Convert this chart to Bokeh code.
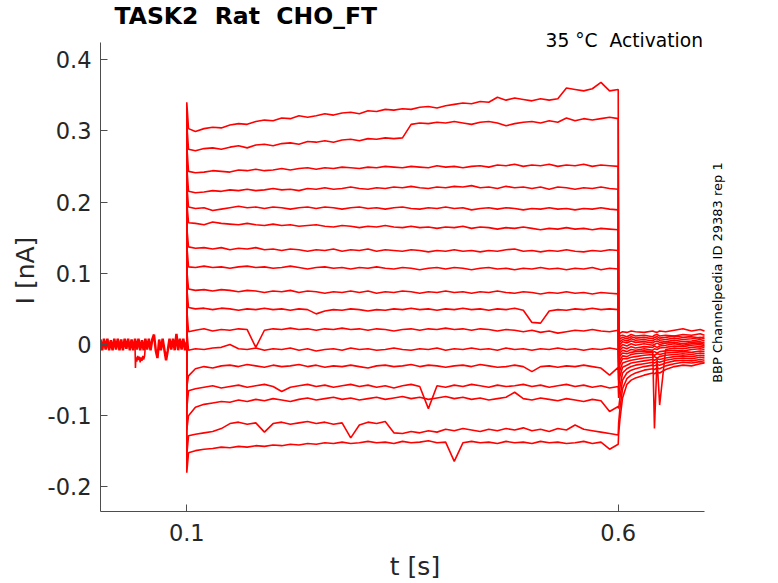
from math import pi

from bokeh.plotting import figure
from bokeh.models import Range1d, FixedTicker, Label
from bokeh.embed import file_html
from bokeh.resources import INLINE

# ---------------- texts ----------------
TITLE = "TASK2\u00a0 Rat\u00a0 CHO_FT"
CONDITION = "35 °C\u00a0 Activation"
SOURCE_NOTE = "BBP Channelpedia ID 29383 rep 1"
X_LABEL = "t [s]"
Y_LABEL = "I [nA]"
X_TICKS = [0.1, 0.6]
X_TICK_LABELS = ["0.1", "0.6"]
Y_TICKS = [-0.2, -0.1, 0, 0.1, 0.2, 0.3, 0.4]
Y_TICK_LABELS = ["-0.2", "-0.1", "0", "0.1", "0.2", "0.3", "0.4"]

# axis extents (data units)
X_MIN, X_MAX = 0.0, 0.7
Y_MIN, Y_MAX = -0.2344, 0.4239

# ---------------- protocol ----------------
PULSE_START = 0.1      # s
HOLD_LEVEL = 0.0       # nA

# sample times during the step (s)
ON_T = [0.102] + [round(0.11 + 0.01 * i, 2) for i in range(50)]
# sample times after the step (s)
TAIL_T = [0.6005, 0.602, 0.605, 0.61, 0.615, 0.62, 0.63, 0.64, 0.642, 0.645,
          0.648, 0.655, 0.665, 0.675, 0.685, 0.695, 0.70]

# holding current before the step (overlaid recordings)
BASE_A_T = [round(0.002 * i, 3) for i in range(51)]
BASE_A = [0.007, -0.008, 0.008, -0.007, 0.008, -0.008, 0.006, -0.008, 0.008, -0.007,
          0.008, -0.008, 0.007, -0.008, 0.008, -0.006, 0.008, -0.008, 0.007, -0.008,
          0.008, -0.007, 0.008, -0.008, 0.006, -0.008, 0.008, -0.007, 0.008, -0.008,
          0.007, 0.014, -0.008, -0.019, 0.007, -0.008, 0.008, -0.007, -0.022, -0.008,
          0.008, -0.007, 0.008, -0.008, 0.015, -0.008, 0.008, -0.007, 0.008, -0.008,
          0.004]
BASE_B_T = [0.040, 0.0405, 0.041, 0.042, 0.043, 0.044, 0.045, 0.046, 0.047, 0.048,
            0.049, 0.050, 0.051, 0.0515, 0.052]
BASE_B = [0.0, -0.033, -0.018, -0.024, -0.016, -0.022, -0.017, -0.025, -0.018, -0.023,
          -0.016, -0.021, -0.017, -0.010, 0.0]

# capacitive peak at step onset (nA), one per sweep
PEAKS = [0.340, 0.310, 0.280, 0.250, 0.225, 0.200, 0.165, 0.140, 0.105, 0.080,
         0.050, 0.020, -0.060, -0.090, -0.120, -0.155, -0.180]

# current during the step (nA), one list per sweep
STEP_01 = [0.303,
           0.299, 0.303, 0.305, 0.304, 0.308, 0.310, 0.309, 0.313, 0.315, 0.314,
           0.318, 0.317, 0.321, 0.319, 0.321, 0.324, 0.322, 0.325, 0.326, 0.324,
           0.328, 0.327, 0.330, 0.329, 0.331, 0.330, 0.333, 0.334, 0.332, 0.335,
           0.337, 0.339, 0.338, 0.341, 0.340, 0.347, 0.343, 0.346, 0.344, 0.342,
           0.345, 0.343, 0.345, 0.360, 0.358, 0.356, 0.359, 0.368, 0.356, 0.358]
STEP_02 = [0.274,
           0.272, 0.275, 0.276, 0.274, 0.277, 0.279, 0.276, 0.280, 0.281, 0.279,
           0.282, 0.283, 0.281, 0.285, 0.284, 0.286, 0.284, 0.287, 0.288, 0.286,
           0.289, 0.288, 0.290, 0.289, 0.290, 0.309, 0.311, 0.310, 0.312, 0.311,
           0.313, 0.311, 0.309, 0.312, 0.313, 0.311, 0.307, 0.310, 0.312, 0.313,
           0.311, 0.314, 0.312, 0.318, 0.314, 0.317, 0.315, 0.317, 0.319, 0.317]
STEP_03 = [0.243,
           0.241, 0.242, 0.244, 0.243, 0.242, 0.245, 0.244, 0.246, 0.244, 0.245,
           0.247, 0.245, 0.247, 0.248, 0.246, 0.248, 0.247, 0.249, 0.248, 0.247,
           0.249, 0.248, 0.250, 0.249, 0.248, 0.250, 0.249, 0.248, 0.251, 0.249,
           0.250, 0.248, 0.250, 0.251, 0.249, 0.252, 0.251, 0.253, 0.250, 0.252,
           0.251, 0.253, 0.250, 0.252, 0.251, 0.253, 0.250, 0.252, 0.251, 0.250]
STEP_04 = [0.215,
           0.213, 0.214, 0.216, 0.215, 0.217, 0.216, 0.218, 0.216, 0.217, 0.219,
           0.217, 0.218, 0.216, 0.219, 0.218, 0.220, 0.218, 0.219, 0.221, 0.219,
           0.218, 0.220, 0.219, 0.221, 0.220, 0.222, 0.220, 0.219, 0.221, 0.220,
           0.222, 0.221, 0.223, 0.220, 0.221, 0.219, 0.222, 0.220, 0.221, 0.219,
           0.221, 0.218, 0.221, 0.220, 0.218, 0.220, 0.219, 0.221, 0.219, 0.218]
STEP_05 = [0.193,
           0.191, 0.192, 0.188, 0.190, 0.192, 0.194, 0.192, 0.193, 0.191, 0.193,
           0.192, 0.190, 0.192, 0.193, 0.191, 0.193, 0.192, 0.190, 0.192, 0.193,
           0.191, 0.192, 0.190, 0.192, 0.193, 0.191, 0.190, 0.192, 0.191, 0.193,
           0.191, 0.192, 0.189, 0.191, 0.192, 0.190, 0.192, 0.191, 0.189, 0.191,
           0.190, 0.192, 0.190, 0.191, 0.189, 0.191, 0.190, 0.192, 0.190, 0.189]
STEP_06 = [0.171,
           0.170, 0.168, 0.172, 0.170, 0.169, 0.168, 0.170, 0.168, 0.167, 0.169,
           0.167, 0.168, 0.166, 0.167, 0.168, 0.166, 0.165, 0.167, 0.166, 0.164,
           0.166, 0.165, 0.167, 0.165, 0.164, 0.166, 0.164, 0.165, 0.163, 0.165,
           0.164, 0.166, 0.163, 0.165, 0.164, 0.162, 0.164, 0.163, 0.165, 0.163,
           0.161, 0.163, 0.162, 0.164, 0.162, 0.163, 0.161, 0.163, 0.162, 0.161]
STEP_07 = [0.137,
           0.135, 0.136, 0.134, 0.136, 0.133, 0.135, 0.134, 0.136, 0.133, 0.134,
           0.132, 0.134, 0.133, 0.131, 0.133, 0.132, 0.134, 0.131, 0.133, 0.132,
           0.134, 0.131, 0.133, 0.132, 0.131, 0.133, 0.132, 0.130, 0.132, 0.131,
           0.133, 0.131, 0.132, 0.130, 0.132, 0.131, 0.133, 0.134, 0.131, 0.132,
           0.130, 0.132, 0.131, 0.133, 0.131, 0.130, 0.132, 0.131, 0.133, 0.132]
STEP_08 = [0.109,
           0.108, 0.110, 0.108, 0.109, 0.107, 0.109, 0.110, 0.108, 0.109, 0.107,
           0.108, 0.110, 0.108, 0.106, 0.108, 0.109, 0.107, 0.108, 0.106, 0.108,
           0.107, 0.109, 0.107, 0.106, 0.108, 0.107, 0.105, 0.107, 0.108, 0.106,
           0.108, 0.107, 0.105, 0.107, 0.108, 0.106, 0.107, 0.105, 0.107, 0.106,
           0.108, 0.106, 0.107, 0.105, 0.107, 0.106, 0.108, 0.105, 0.107, 0.106]
STEP_09 = [0.078,
           0.076, 0.077, 0.075, 0.077, 0.076, 0.074, 0.076, 0.075, 0.073, 0.075,
           0.074, 0.076, 0.073, 0.075, 0.074, 0.072, 0.074, 0.073, 0.075, 0.073,
           0.075, 0.072, 0.074, 0.073, 0.075, 0.074, 0.072, 0.074, 0.073, 0.075,
           0.073, 0.074, 0.072, 0.074, 0.073, 0.075, 0.073, 0.072, 0.074, 0.073,
           0.071, 0.073, 0.072, 0.074, 0.072, 0.073, 0.071, 0.073, 0.072, 0.071]
STEP_10 = [0.052,
           0.050, 0.051, 0.049, 0.051, 0.050, 0.048, 0.050, 0.049, 0.051, 0.049,
           0.050, 0.048, 0.050, 0.049, 0.043, 0.047, 0.049, 0.048, 0.050, 0.049,
           0.047, 0.049, 0.048, 0.050, 0.049, 0.051, 0.049, 0.050, 0.048, 0.050,
           0.049, 0.051, 0.049, 0.050, 0.048, 0.050, 0.049, 0.051, 0.048, 0.031,
           0.030, 0.047, 0.049, 0.048, 0.050, 0.049, 0.051, 0.049, 0.050, 0.049]
STEP_11 = [0.018,
           0.020, 0.022, 0.019, 0.021, 0.020, 0.022, 0.021, -0.004, 0.020, 0.022,
           0.021, 0.023, 0.021, 0.022, 0.020, 0.022, 0.021, 0.023, 0.021, 0.022,
           0.020, 0.022, 0.021, 0.019, 0.021, 0.022, 0.020, 0.022, 0.021, 0.023,
           0.021, 0.022, 0.020, 0.022, 0.021, 0.019, 0.021, 0.020, 0.018, 0.020,
           0.017, 0.019, 0.016, 0.018, 0.020, 0.019, 0.021, 0.019, 0.018, 0.020]
STEP_12 = [-0.008,
           -0.006, -0.007, -0.005, -0.004, 0.000, -0.006, -0.007, -0.005, -0.008, -0.006,
           -0.007, -0.005, -0.008, -0.006, -0.009, -0.007, -0.006, -0.008, -0.005, -0.007,
           -0.006, -0.008, -0.007, -0.005, -0.007, -0.008, -0.006, -0.007, -0.005, -0.008,
           -0.006, -0.007, -0.005, -0.007, -0.006, -0.008, -0.005, -0.007, -0.006, -0.008,
           -0.006, -0.007, -0.005, -0.007, -0.006, -0.008, -0.006, -0.007, -0.005, -0.007]
STEP_13 = [-0.044,
           -0.034, -0.031, -0.033, -0.030, -0.029, -0.031, -0.028, -0.030, -0.032, -0.029,
           -0.031, -0.030, -0.028, -0.031, -0.029, -0.032, -0.030, -0.031, -0.029, -0.031,
           -0.033, -0.030, -0.029, -0.031, -0.030, -0.028, -0.031, -0.029, -0.030, -0.032,
           -0.030, -0.029, -0.031, -0.028, -0.030, -0.032, -0.031, -0.029, -0.031, -0.038,
           -0.031, -0.030, -0.032, -0.030, -0.031, -0.029, -0.031, -0.033, -0.043, -0.032]
STEP_14 = [-0.065,
           -0.062, -0.060, -0.058, -0.061, -0.059, -0.057, -0.060, -0.058, -0.056, -0.059,
           -0.066, -0.060, -0.058, -0.056, -0.059, -0.057, -0.060, -0.058, -0.056, -0.059,
           -0.057, -0.060, -0.058, -0.061, -0.058, -0.056, -0.059, -0.090, -0.058, -0.060,
           -0.057, -0.059, -0.056, -0.058, -0.060, -0.057, -0.059, -0.058, -0.056, -0.059,
           -0.057, -0.060, -0.058, -0.056, -0.059, -0.057, -0.060, -0.058, -0.061, -0.059]
STEP_15 = [-0.100,
           -0.088, -0.084, -0.082, -0.080, -0.081, -0.078, -0.080, -0.077, -0.079, -0.076,
           -0.078, -0.080, -0.077, -0.075, -0.078, -0.076, -0.074, -0.077, -0.075, -0.078,
           -0.076, -0.074, -0.077, -0.075, -0.073, -0.076, -0.074, -0.077, -0.075, -0.073,
           -0.076, -0.074, -0.077, -0.075, -0.078, -0.076, -0.074, -0.067, -0.076, -0.078,
           -0.075, -0.077, -0.079, -0.076, -0.078, -0.080, -0.077, -0.079, -0.094, -0.087]
STEP_16 = [-0.128,
           -0.126, -0.124, -0.122, -0.118, -0.111, -0.109, -0.112, -0.110, -0.123, -0.111,
           -0.109, -0.112, -0.110, -0.108, -0.111, -0.109, -0.112, -0.110, -0.131, -0.113,
           -0.109, -0.111, -0.108, -0.124, -0.125, -0.122, -0.124, -0.121, -0.123, -0.119,
           -0.121, -0.118, -0.120, -0.122, -0.119, -0.121, -0.118, -0.120, -0.117, -0.121,
           -0.119, -0.122, -0.118, -0.120, -0.113, -0.119, -0.121, -0.123, -0.125, -0.127]
STEP_17 = [-0.152,
           -0.149, -0.147, -0.146, -0.144, -0.145, -0.143, -0.144, -0.142, -0.143, -0.141,
           -0.142, -0.140, -0.141, -0.139, -0.140, -0.138, -0.139, -0.137, -0.139, -0.138,
           -0.136, -0.138, -0.137, -0.139, -0.136, -0.138, -0.137, -0.135, -0.138, -0.137,
           -0.164, -0.138, -0.136, -0.138, -0.137, -0.139, -0.136, -0.138, -0.137, -0.139,
           -0.136, -0.138, -0.137, -0.139, -0.138, -0.136, -0.139, -0.137, -0.147, -0.140]

# current after the step (nA), one list per sweep
TAIL_01 = [0.010, 0.016, 0.018, 0.017, 0.019, 0.018, 0.017, 0.019, 0.018, 0.017, 0.019, 0.018, 0.020, 0.022, 0.019, 0.021, 0.019]
TAIL_02 = [0.005, 0.012, 0.013, 0.011, 0.014, 0.012, 0.013, 0.011, 0.013, 0.014, 0.012, 0.013, 0.012, 0.014, 0.013, 0.015, 0.013]
TAIL_03 = [0.000, 0.008, 0.010, 0.008, 0.011, 0.009, 0.010, 0.008, 0.010, 0.011, 0.009, 0.010, 0.012, 0.010, 0.011, 0.009, 0.011]
TAIL_04 = [-0.005, 0.004, 0.007, 0.005, 0.008, 0.006, 0.007, 0.005, 0.007, 0.008, 0.006, 0.007, 0.009, 0.007, 0.008, 0.010, 0.008]
TAIL_05 = [-0.010, 0.000, 0.004, 0.002, 0.005, 0.003, 0.004, 0.002, 0.004, 0.005, 0.003, 0.004, 0.006, 0.004, 0.005, 0.007, 0.005]
TAIL_06 = [-0.015, -0.004, 0.000, -0.002, 0.001, -0.001, 0.001, -0.001, 0.000, 0.002, 0.000, 0.002, 0.003, 0.001, 0.003, 0.004, 0.002]
TAIL_07 = [-0.020, -0.008, -0.004, -0.006, -0.003, -0.005, -0.003, -0.004, -0.002, -0.004, -0.002, -0.001, 0.001, -0.001, 0.001, 0.002, 0.000]
TAIL_08 = [-0.025, -0.012, -0.008, -0.010, -0.007, -0.008, -0.006, -0.008, -0.006, -0.007, -0.005, -0.004, -0.002, -0.003, -0.001, 0.000, -0.002]
TAIL_09 = [-0.030, -0.016, -0.012, -0.013, -0.011, -0.010, -0.009, -0.010, -0.118, -0.020, -0.085, -0.007, -0.005, -0.006, -0.004, -0.003, -0.004]
TAIL_10 = [-0.035, -0.022, -0.016, -0.017, -0.014, -0.013, -0.012, -0.011, -0.010, -0.012, -0.010, -0.009, -0.008, -0.009, -0.007, -0.006, -0.007]
TAIL_11 = [-0.040, -0.028, -0.020, -0.020, -0.018, -0.017, -0.015, -0.014, -0.015, -0.013, -0.014, -0.012, -0.011, -0.010, -0.011, -0.009, -0.010]
TAIL_12 = [-0.050, -0.036, -0.026, -0.024, -0.022, -0.021, -0.019, -0.018, -0.017, -0.019, -0.017, -0.015, -0.014, -0.013, -0.014, -0.012, -0.013]
TAIL_13 = [-0.060, -0.045, -0.032, -0.029, -0.026, -0.025, -0.023, -0.021, -0.022, -0.020, -0.021, -0.019, -0.017, -0.016, -0.017, -0.015, -0.016]
TAIL_14 = [-0.075, -0.060, -0.040, -0.034, -0.031, -0.029, -0.027, -0.025, -0.026, -0.024, -0.025, -0.022, -0.020, -0.019, -0.020, -0.018, -0.019]
TAIL_15 = [-0.090, -0.075, -0.050, -0.040, -0.036, -0.034, -0.031, -0.029, -0.030, -0.028, -0.029, -0.026, -0.023, -0.022, -0.023, -0.021, -0.022]
TAIL_16 = [-0.110, -0.090, -0.062, -0.048, -0.043, -0.040, -0.036, -0.034, -0.035, -0.033, -0.034, -0.030, -0.027, -0.025, -0.026, -0.024, -0.025]
TAIL_17 = [-0.125, -0.105, -0.075, -0.056, -0.050, -0.047, -0.043, -0.040, -0.041, -0.039, -0.040, -0.035, -0.031, -0.029, -0.030, -0.027, -0.026]

STEPS = [STEP_01, STEP_02, STEP_03, STEP_04, STEP_05, STEP_06, STEP_07, STEP_08, STEP_09,
         STEP_10, STEP_11, STEP_12, STEP_13, STEP_14, STEP_15, STEP_16, STEP_17]
TAILS = [TAIL_01, TAIL_02, TAIL_03, TAIL_04, TAIL_05, TAIL_06, TAIL_07, TAIL_08, TAIL_09,
         TAIL_10, TAIL_11, TAIL_12, TAIL_13, TAIL_14, TAIL_15, TAIL_16, TAIL_17]

for s in STEPS:
    assert len(s) == len(ON_T), len(s)
for t in TAILS:
    assert len(t) == len(TAIL_T), len(t)
assert len(BASE_A) == len(BASE_A_T)
assert len(BASE_B) == len(BASE_B_T)

# ---------------- figure ----------------
FONT = "DejaVu Sans"
AXIS_COLOR = "#4d4d4d"
TEXT_COLOR = "#262626"
TRACE_COLOR = "#ff0000"

PX_PER_S = 863.0
PX_PER_NA = 712.5
EXTRA_RIGHT_PX = 25   # room inside the frame for the side note
EXTRA_TOP_PX = 13     # room inside the frame for the condition note

x_view_end = X_MAX + EXTRA_RIGHT_PX / PX_PER_S
y_view_end = Y_MAX + EXTRA_TOP_PX / PX_PER_NA

p = figure(frame_width=int(round((x_view_end - X_MIN) * PX_PER_S)),
           frame_height=int(round((y_view_end - Y_MIN) * PX_PER_NA)),
           x_range=Range1d(X_MIN, x_view_end), y_range=Range1d(Y_MIN, y_view_end),
           output_backend="svg", toolbar_location=None,
           min_border_left=100, min_border_right=40, min_border_top=29, min_border_bottom=60)

p.title.text = TITLE
p.title.align = "left"
p.title.offset = 14
p.title.text_font = FONT
p.title.text_font_size = "23.5px"
p.title.text_font_style = "bold"
p.title.text_color = "#000000"
p.title.standoff = -1

p.xgrid.visible = False
p.ygrid.visible = False
p.outline_line_color = None
p.background_fill_color = "white"
p.border_fill_color = "white"

p.xaxis.ticker = FixedTicker(ticks=X_TICKS)
p.xaxis.major_label_overrides = dict(zip(X_TICKS, X_TICK_LABELS))
p.yaxis.ticker = FixedTicker(ticks=Y_TICKS)
p.yaxis.major_label_overrides = dict(zip(Y_TICKS, Y_TICK_LABELS))
p.xaxis.bounds = (X_MIN, X_MAX)
p.yaxis.bounds = (Y_MIN, Y_MAX)
p.xaxis.axis_label = X_LABEL
p.yaxis.axis_label = Y_LABEL

for ax in (p.xaxis[0], p.yaxis[0]):
    ax.axis_line_color = AXIS_COLOR
    ax.axis_line_width = 1
    ax.major_tick_line_color = AXIS_COLOR
    ax.major_tick_in = 7
    ax.major_tick_out = 0
    ax.minor_tick_line_color = None
    ax.major_label_text_font = FONT
    ax.major_label_text_font_size = "22.5px"
    ax.major_label_text_color = TEXT_COLOR
    ax.axis_label_text_font = FONT
    ax.axis_label_text_font_size = "25px"
    ax.axis_label_text_font_style = "normal"
    ax.axis_label_text_color = TEXT_COLOR

p.yaxis.major_label_standoff = 9
p.yaxis.axis_label_standoff = 5
p.xaxis.major_label_standoff = 12
p.xaxis.axis_label_standoff = 8

# holding current
p.line(BASE_A_T, BASE_A, line_color=TRACE_COLOR, line_width=2.5)
p.line(BASE_B_T, BASE_B, line_color=TRACE_COLOR, line_width=1.6)

# sweeps
for peak, step, tail in zip(PEAKS, STEPS, TAILS):
    xs = [PULSE_START, PULSE_START] + ON_T + TAIL_T
    ys = [HOLD_LEVEL, peak] + step + tail
    p.line(xs, ys, line_color=TRACE_COLOR, line_width=1.6)

p.add_layout(Label(x=0.6983, y=0.4267, text=CONDITION, text_align="right",
                   text_baseline="middle", text_font=FONT, text_font_size="18.7px",
                   text_color="#000000"))
p.add_layout(Label(x=0.7156, y=0.101, text=SOURCE_NOTE, angle=pi / 2,
                   text_align="center", text_baseline="middle", text_font=FONT,
                   text_font_size="13px", text_color="#000000"))

open("out.html", "w").write(file_html(p, INLINE))
